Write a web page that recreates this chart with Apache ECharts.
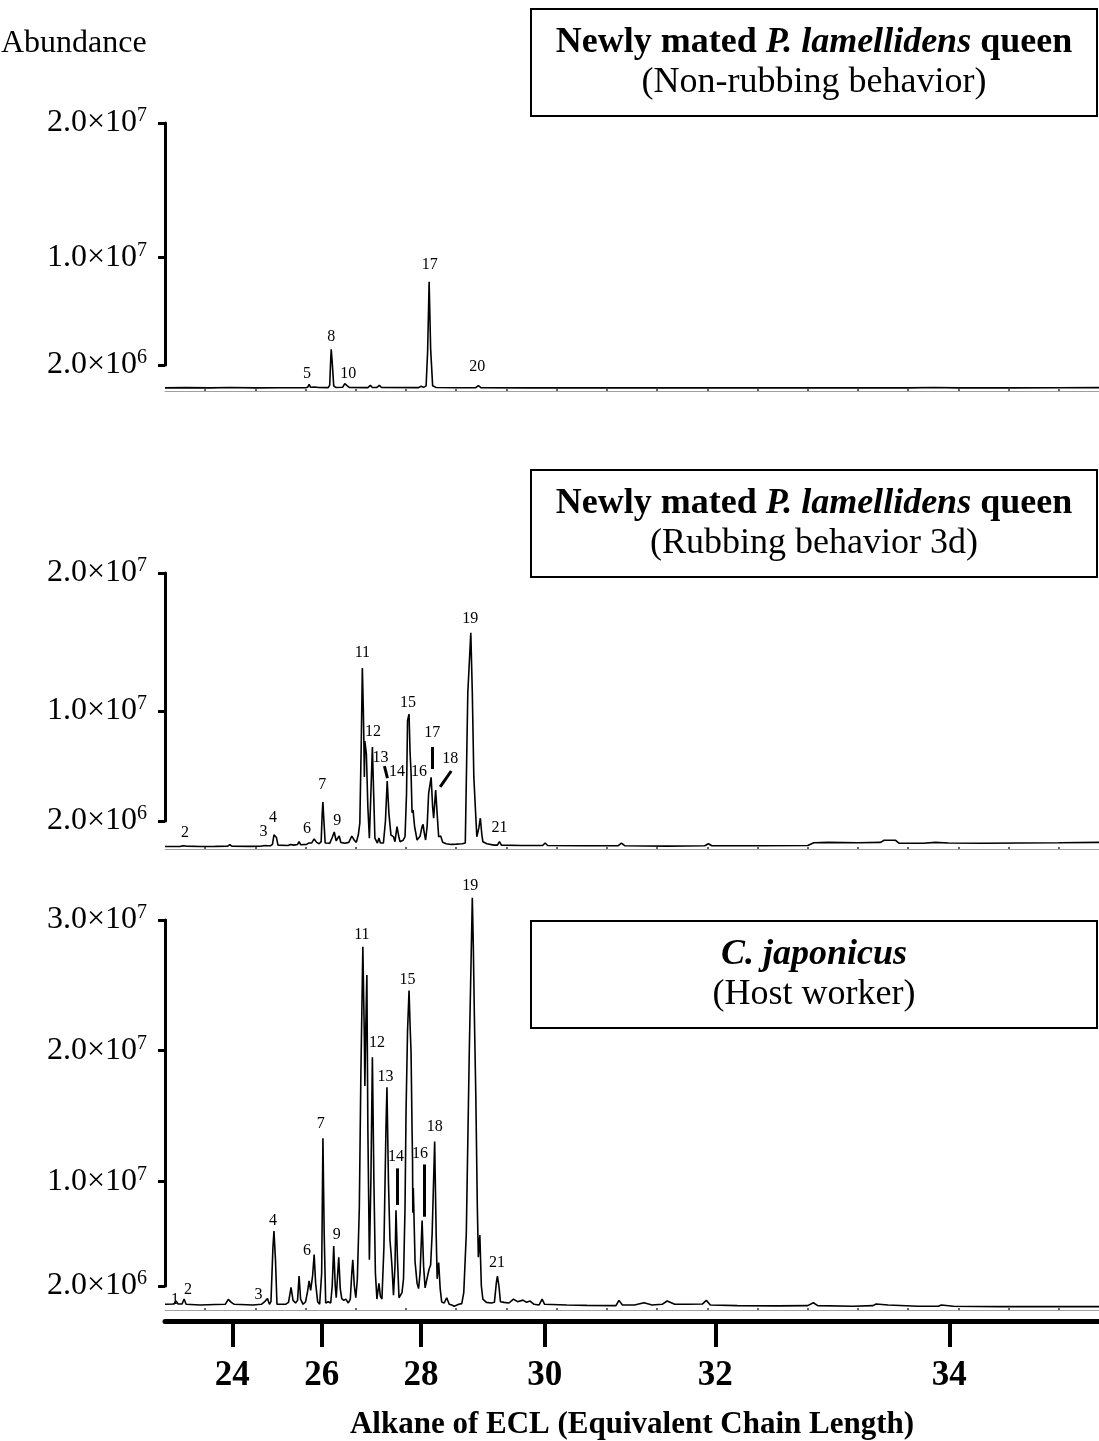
<!DOCTYPE html>
<html>
<head>
<meta charset="utf-8">
<script src="https://cdn.jsdelivr.net/npm/echarts@6/dist/echarts.min.js"></script>
<style>
html,body{margin:0;padding:0;background:#fff;}
#chart{width:1099px;height:1441px;}
</style>
</head>
<body>
<div id="chart"></div>
<script>
// Retention time (min) on a linear axis; ECL alkane markers placed at their retention times.
const ALKANE_RT = [16.54, 18.32, 20.30, 22.76, 26.16, 30.82];
const ECL_LABELS = ['24', '26', '28', '30', '32', '34'];
const MINUTE_TICKS = [16,17,18,19,20,21,22,23,24,25,26,27,28,29,30,31,32,33];

// Abundance in units of 10^6
const Y_TICKS_TOP = [2, 10, 20];
const Y_TICKS_BOTTOM = [2, 10, 20, 30];

// Panel 1: Newly mated P. lamellidens queen (Non-rubbing behavior)
const TRACE_NON_RUBBING = [
 [15.20,0.30],[15.60,0.32],[16.10,0.30],[16.50,0.33],[17.00,0.30],[17.50,0.31],[18.00,0.31],
 [18.04,0.34],[18.07,0.56],[18.10,0.34],[18.13,0.33],[18.19,0.36],[18.22,0.45],[18.25,0.33],
 [18.45,0.32],[18.48,0.50],[18.50,2.4],[18.51,3.17],[18.53,2.2],[18.56,0.45],[18.60,0.33],
 [18.74,0.35],[18.78,0.62],[18.80,0.68],[18.83,0.45],[18.87,0.33],
 [19.24,0.32],[19.29,0.48],[19.33,0.33],[19.42,0.33],[19.47,0.48],[19.51,0.33],
 [20.25,0.32],[20.30,0.42],[20.35,0.34],[20.40,0.45],[20.43,3.0],[20.46,8.2],[20.49,3.2],[20.53,0.45],[20.60,0.33],
 [21.00,0.31],[21.39,0.32],[21.44,0.46],[21.49,0.32],
 [22.5,0.30],[23.5,0.31],[24.3,0.30],[25.0,0.31],[25.9,0.30],[27.0,0.31],[28.0,0.30],[29.0,0.31],
 [30.0,0.30],[30.5,0.33],[31.0,0.30],[32.0,0.30],[33.0,0.31],[33.8,0.32]
];
const LABELS_NON_RUBBING = [['5',18.03,1.33],['8',18.51,4.08],['10',18.85,1.33],['17',20.47,9.46],['20',21.42,1.85]];
const POINTERS_NON_RUBBING = [];

// Panel 2: Newly mated P. lamellidens queen (Rubbing behavior 3d)
const TRACE_RUBBING = [
 [15.20,0.15],[15.50,0.15],[15.56,0.20],[15.59,0.33],[15.62,0.18],[15.90,0.15],[16.20,0.16],[16.45,0.17],[16.49,0.28],[16.53,0.17],
 [16.90,0.16],[17.10,0.17],[17.20,0.22],[17.24,0.20],[17.27,0.32],[17.30,0.20],
 [17.34,0.30],[17.37,1.0],[17.39,1.13],[17.42,0.8],[17.45,0.25],[17.65,0.22],[17.70,0.30],[17.73,0.42],[17.76,0.25],
 [17.84,0.30],[17.87,0.50],[17.90,0.28],[18.02,0.30],[18.06,0.40],[18.09,0.52],[18.12,0.40],[18.17,0.70],[18.19,0.82],
 [18.22,0.45],[18.27,0.35],[18.31,0.5],[18.33,2.5],[18.345,3.38],[18.36,2.3],[18.39,0.4],[18.48,0.38],[18.53,0.8],
 [18.57,1.2],[18.61,0.55],[18.64,0.75],[18.67,0.91],[18.70,0.45],[18.78,0.38],[18.86,0.45],[18.92,0.9],[18.94,1.03],
 [18.97,0.6],[19.01,0.45],[19.05,1.0],[19.08,1.85],[19.11,8.0],[19.13,13.1],[19.15,10.0],[19.16,7.9],[19.17,5.2],
 [19.18,7.8],[19.21,6.9],[19.24,3.0],[19.27,0.75],[19.30,4.0],[19.33,7.37],[19.355,4.0],[19.38,0.76],[19.43,0.40],
 [19.46,0.77],[19.49,0.40],[19.55,0.40],[19.59,2.0],[19.625,4.9],[19.66,2.5],[19.70,0.98],[19.75,0.86],[19.78,0.50],
 [19.82,1.59],[19.86,0.8],[19.88,0.5],[19.94,0.6],[19.98,0.86],[20.01,4.0],[20.03,9.3],[20.06,9.76],[20.08,7.0],
 [20.10,5.5],[20.12,2.6],[20.14,2.8],[20.17,1.6],[20.22,0.62],[20.28,0.9],[20.32,1.6],[20.34,1.76],[20.36,1.2],
 [20.39,0.62],[20.42,1.6],[20.45,4.0],[20.50,5.17],[20.53,3.0],[20.55,2.2],[20.59,4.25],[20.62,2.5],[20.65,0.86],
 [20.69,0.91],[20.73,0.45],[20.80,0.35],[20.90,0.3],[21.00,0.32],[21.12,0.35],[21.18,0.4],[21.23,11.3],[21.29,15.66],
 [21.32,11.3],[21.35,5.2],[21.38,3.0],[21.41,0.86],[21.45,1.5],[21.48,2.2],[21.51,1.0],[21.53,0.5],[21.61,0.35],
 [21.75,0.25],[21.82,0.25],[21.86,0.5],[21.90,0.25],[22.3,0.22],[22.72,0.22],[22.77,0.40],[22.82,0.22],[23.5,0.2],
 [24.22,0.20],[24.29,0.40],[24.36,0.20],[25.2,0.18],[25.95,0.2],[26.02,0.35],[26.09,0.2],[27.0,0.2],[28.0,0.22],
 [28.12,0.42],[28.4,0.45],[29.0,0.42],[29.45,0.45],[29.52,0.6],[29.75,0.6],[29.82,0.38],[30.3,0.38],[30.54,0.45],
 [30.8,0.4],[31.5,0.38],[32.2,0.4],[33.0,0.42],[33.8,0.45]
];
const LABELS_RUBBING = [['2',15.60,1.13],['3',17.16,1.2],['4',17.35,2.22],['6',18.03,1.42],['7',18.33,4.6],['9',18.63,2.0],
 ['11',19.13,14.2],['12',19.34,8.5],['13',19.49,6.6],['14',19.82,5.55],['15',20.04,10.6],['16',20.26,5.55],
 ['17',20.52,8.4],['18',20.88,6.5],['19',21.28,16.7],['21',21.86,1.5]];
const POINTERS_RUBBING = [
 [[19.57,5.99],[19.63,5.12]], [[19.84,4.68],[19.84,1.93]], [[20.36,4.68],[20.36,1.93]],
 [[20.52,7.37],[20.52,5.77]], [[20.90,5.63],[20.68,4.47]]
];

// Panel 3: C. japonicus (Host worker)
const TRACE_HOST = [
 [15.20,0.60],[15.38,0.62],[15.42,0.85],[15.46,0.62],[15.54,0.62],[15.58,1.0],[15.62,0.6],[15.90,0.55],[16.20,0.58],
 [16.40,0.6],[16.46,0.98],[16.52,0.75],[16.58,0.6],[16.95,0.55],[17.12,0.6],[17.18,0.78],[17.21,0.65],[17.24,1.05],
 [17.28,0.6],[17.31,0.8],[17.35,5.0],[17.37,6.2],[17.40,4.0],[17.43,0.6],[17.60,0.6],[17.66,0.75],[17.71,1.9],
 [17.75,0.9],[17.80,0.7],[17.84,0.9],[17.87,2.76],[17.90,1.0],[17.95,0.6],[18.00,0.8],[18.04,1.6],[18.07,2.4],
 [18.10,1.66],[18.14,2.8],[18.17,4.4],[18.20,2.2],[18.24,0.8],[18.28,0.6],[18.32,3.0],[18.345,13.3],[18.37,6.0],
 [18.40,0.7],[18.45,0.8],[18.50,0.7],[18.53,2.0],[18.56,5.05],[18.59,2.0],[18.61,1.1],[18.64,3.0],[18.66,4.2],
 [18.69,1.8],[18.72,1.03],[18.76,0.9],[18.80,1.0],[18.85,0.7],[18.89,1.0],[18.92,3.0],[18.94,4.0],[18.97,2.0],
 [19.00,1.1],[19.03,2.5],[19.07,8.0],[19.10,18],[19.14,27.96],[19.17,21],[19.18,17.3],[19.20,22],[19.22,25.8],
 [19.24,14],[19.27,4.0],[19.30,10],[19.33,19.5],[19.36,10],[19.39,3],[19.42,1.0],[19.46,2.2],[19.49,1.2],[19.52,1.0],
 [19.56,5],[19.60,14],[19.62,17.2],[19.65,10],[19.68,5.5],[19.70,4.6],[19.72,3.5],[19.75,1.3],[19.78,3.5],[19.80,7.8],
 [19.83,4.0],[19.86,1.1],[19.92,1.5],[19.95,2.55],[19.98,8],[20.00,15.3],[20.03,21.5],[20.06,24.6],[20.08,22],
 [20.10,19.9],[20.12,14],[20.13,11.5],[20.135,7.6],[20.145,9.5],[20.18,3.85],[20.22,2.2],[20.25,1.8],[20.28,3.0],
 [20.32,7.0],[20.35,3.5],[20.38,1.85],[20.42,2.6],[20.46,3.3],[20.49,3.6],[20.52,6],[20.57,13.05],[20.60,6.0],
 [20.62,2.55],[20.65,3.8],[20.68,1.8],[20.71,0.78],[20.76,0.7],[20.81,1.1],[20.86,0.6],[20.91,0.55],[20.96,0.45],
 [21.05,0.6],[21.11,0.65],[21.15,1.5],[21.20,6],[21.26,20],[21.32,31.7],[21.34,28],[21.36,22.9],[21.39,16.5],
 [21.42,8],[21.44,4.2],[21.47,5.9],[21.50,2.0],[21.53,1.0],[21.60,0.75],[21.70,0.7],[21.76,0.75],[21.80,2.3],
 [21.82,2.76],[21.85,2.0],[21.88,0.8],[21.95,0.75],[22.05,0.7],[22.14,1.0],[22.22,0.8],[22.33,0.92],[22.40,0.75],
 [22.47,0.85],[22.55,0.6],[22.65,0.55],[22.71,1.0],[22.76,0.6],[23.2,0.55],[23.6,0.52],[24.18,0.5],[24.24,0.9],
 [24.31,0.55],[24.55,0.55],[24.74,0.72],[24.9,0.55],[25.1,0.6],[25.20,0.85],[25.35,0.6],[25.6,0.6],[25.90,0.62],
 [25.98,0.9],[26.06,0.55],[26.6,0.5],[27.4,0.48],[28.0,0.5],[28.11,0.72],[28.2,0.5],[28.9,0.45],[29.30,0.5],
 [29.36,0.62],[29.6,0.55],[30.2,0.45],[30.60,0.45],[30.66,0.55],[30.9,0.45],[31.8,0.42],[33.0,0.42],[33.8,0.42]
];
const LABELS_HOST = [['1',15.40,0.98],['2',15.66,1.72],['3',17.06,1.34],['4',17.35,7.0],['6',18.03,4.7],['7',18.30,14.4],
 ['9',18.62,5.9],['11',19.12,28.9],['12',19.42,20.6],['13',19.59,18.0],['14',19.80,11.9],['15',20.03,25.4],
 ['16',20.28,12.1],['18',20.57,14.2],['19',21.28,32.6],['21',21.81,3.75]];
const POINTERS_HOST = [[[19.83,11.0],[19.83,8.2]], [[20.36,11.3],[20.36,7.3]]];

const PANEL_TITLES = [
 {line1: [['b','Newly mated '],['bi','P. lamellidens'],['b',' queen']], line2: '(Non-rubbing behavior)'},
 {line1: [['b','Newly mated '],['bi','P. lamellidens'],['b',' queen']], line2: '(Rubbing behavior 3d)'},
 {line1: [['bi','C. japonicus']], line2: '(Host worker)'}
];

const FONT = 'Liberation Serif';
const chart = echarts.init(document.getElementById('chart'), null, {renderer: 'canvas'});

function sciLabel(v) {
  const a = v * 1e6;
  const e = Math.floor(Math.log10(a) + 1e-9);
  const m = a / Math.pow(10, e);
  return '{m|' + m.toFixed(1) + '×10}{s|' + e + '}';
}
const Y_RICH = {
  m: {fontSize: 32, fontFamily: FONT, color: '#000', lineHeight: 34},
  s: {fontSize: 20, fontFamily: FONT, color: '#000', verticalAlign: 'top', lineHeight: 20}
};

const grids = [
  {left: 165, right: 0, top: 123, height: 242},
  {left: 165, right: 0, top: 573, height: 248},
  {left: 165, right: 0, top: 920, height: 367}
];
const axisOffsets = [26, 28, 24];

const xAxes = grids.map((g, i) => ({
  gridIndex: i, type: 'value', min: 15.2, max: 33.8, position: 'bottom', offset: axisOffsets[i],
  axisLine: {show: true, onZero: false, lineStyle: {color: '#a0a0a0', width: 1}},
  axisTick: {show: true, inside: true, length: 2, customValues: MINUTE_TICKS, lineStyle: {color: '#333', width: 1.5}},
  axisLabel: {show: false}, splitLine: {show: false}
}));
xAxes.push({
  gridIndex: 2, type: 'value', min: 15.2, max: 33.8, position: 'bottom', offset: 35,
  axisLine: {show: true, onZero: false, lineStyle: {color: '#000', width: 5}},
  axisTick: {show: true, length: 26, customValues: ALKANE_RT, lineStyle: {color: '#000', width: 4}},
  axisLabel: {
    show: true, customValues: ALKANE_RT, margin: 37,
    formatter: v => { const k = ALKANE_RT.findIndex(r => Math.abs(r - v) < 1e-6); return k >= 0 ? ECL_LABELS[k] : ''; },
    fontFamily: FONT, fontWeight: 'bold', fontSize: 35, color: '#000'
  },
  name: 'Alkane of ECL (Equivalent Chain Length)', nameLocation: 'middle', nameGap: 88,
  nameTextStyle: {fontFamily: FONT, fontWeight: 'bold', fontSize: 31, color: '#000'},
  splitLine: {show: false}
});

const yTicks = [Y_TICKS_TOP, Y_TICKS_TOP, Y_TICKS_BOTTOM];
const yMax = [20, 20, 30];
const yAxes = grids.map((g, i) => ({
  gridIndex: i, type: 'value', min: 2, max: yMax[i],
  axisLine: {show: true, lineStyle: {color: '#000', width: 3}},
  axisTick: {show: true, length: 7, customValues: yTicks[i], lineStyle: {color: '#000', width: 3}},
  axisLabel: {show: true, customValues: yTicks[i], margin: 18, formatter: sciLabel, rich: Y_RICH},
  splitLine: {show: false}
}));

const traces = [TRACE_NON_RUBBING, TRACE_RUBBING, TRACE_HOST];
const labels = [LABELS_NON_RUBBING, LABELS_RUBBING, LABELS_HOST];
const pointers = [POINTERS_NON_RUBBING, POINTERS_RUBBING, POINTERS_HOST];

const series = [];
traces.forEach((tr, i) => {
  series.push({
    type: 'line', xAxisIndex: i, yAxisIndex: i, data: tr, showSymbol: false, symbol: 'none',
    clip: false, animation: false, silent: true,
    lineStyle: {color: '#000', width: 1.6},
    markLine: pointers[i].length ? {
      silent: true, symbol: ['none', 'none'], label: {show: false}, animation: false,
      lineStyle: {color: '#000', width: 3, type: 'solid'},
      data: pointers[i].map(p => [{coord: p[0]}, {coord: p[1]}])
    } : undefined
  });
  series.push({
    type: 'scatter', xAxisIndex: i, yAxisIndex: i, clip: false, animation: false, silent: true,
    symbolSize: 1, itemStyle: {color: 'rgba(0,0,0,0)'},
    data: labels[i].map(l => ({name: l[0], value: [l[1], l[2]]})),
    label: {show: true, position: 'inside', formatter: '{b}', fontFamily: FONT, fontSize: 16, color: '#000',
      textBorderWidth: 0, opacity: 1}
  });
});

function titleText(t) {
  return t.line1.map(s => '{' + s[0] + '|' + s[1] + '}').join('') + '\n{r|' + t.line2 + '}';
}
const TITLE_RICH = {
  b: {fontSize: 36, fontWeight: 'bold', fontFamily: FONT, lineHeight: 40, fill: '#000'},
  bi: {fontSize: 36, fontWeight: 'bold', fontStyle: 'italic', fontFamily: FONT, lineHeight: 40, fill: '#000'},
  r: {fontSize: 36, fontFamily: FONT, lineHeight: 40, fill: '#000'}
};
const boxTops = [9, 470, 921];
const graphic = [{
  type: 'text', left: 1, top: 28, z: 20,
  style: {text: 'Abundance', fontSize: 32, fontFamily: FONT, fill: '#000'}
}];
boxTops.forEach((y, i) => {
  graphic.push({type: 'rect', z: 20, shape: {x: 531, y: y, width: 566, height: 107},
    style: {fill: '#fff', stroke: '#000', lineWidth: 2}});
  graphic.push({type: 'text', z: 21, x: 814, y: y + 54,
    style: {text: titleText(PANEL_TITLES[i]), rich: TITLE_RICH, align: 'center', verticalAlign: 'middle',
      textAlign: 'center', textVerticalAlign: 'middle'}});
});

chart.setOption({
  animation: false,
  backgroundColor: '#fff',
  grid: grids,
  xAxis: xAxes,
  yAxis: yAxes,
  series: series,
  graphic: graphic
});
</script>
</body>
</html>
